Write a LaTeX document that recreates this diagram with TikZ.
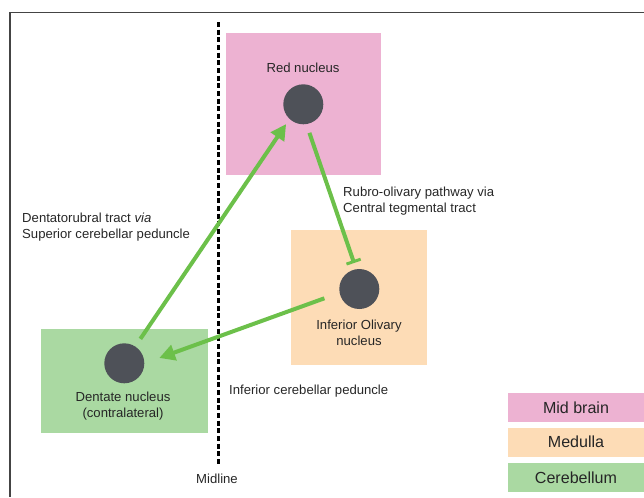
\documentclass[tikz,border=0pt]{standalone}
\usepackage{fontspec}
\setmainfont{Liberation Sans}
\usepackage{tikz}
\usetikzlibrary{arrows.meta}
\definecolor{midbrain}{HTML}{EDB2D2}
\definecolor{medulla}{HTML}{FDDCB6}
\definecolor{cerebellum}{HTML}{AAD9A2}
\definecolor{tractgreen}{HTML}{6CC04A}
\definecolor{nucgray}{HTML}{4E5158}
\definecolor{framegray}{HTML}{444444}
\definecolor{inkgray}{HTML}{262626}
\tikzstyle{region}=[rectangle,inner sep=0pt]
\tikzstyle{nucleus}=[circle,fill=nucgray,minimum size=1.2cm,inner sep=0pt]
\tikzstyle{tract}=[draw=tractgreen,line width=0.12cm]
\tikzstyle{lbl}=[text=inkgray,align=center,inner sep=0pt]
\tikzstyle{legendbox}=[rectangle,text=inkgray,minimum width=4.08cm,minimum height=0.87cm,inner sep=0pt,font=\fontsize{13.7}{16}\selectfont]
\tikzstyle{midline}=[line width=0.09cm,dash pattern=on 0.15cm off 0.08cm]

\begin{document}
\begin{tikzpicture}[x=0.03cm,y=-0.03cm,font=\fontsize{11.2}{13.6}\selectfont]
	\useasboundingbox (0,0) rectangle (644,497);
	\draw[framegray,line width=0.04cm] (644,12.5) -- (10,12.5) -- (10,497);

	\coordinate (mtop) at (218,22);
	\coordinate (mbot) at (218,466);
	\draw[midline] (mtop) -- (mbot);
	\node[lbl] (midlbl) at (217,479) {Midline};

	\node[region,fill=midbrain,minimum width=4.65cm,minimum height=4.23cm] (midbox) at (303.5,104) {};
	\node[region,fill=medulla,minimum width=4.08cm,minimum height=4.05cm] (medbox) at (359,297.5) {};
	\node[region,fill=cerebellum,minimum width=4.98cm,minimum height=3.12cm] (cerbox) at (124.5,381) {};

	\node[nucleus] (red) at (303.3,104.3) {};
	\node[nucleus] (olive) at (359.3,289) {};
	\node[nucleus] (dentate) at (124.3,363.3) {};

	\node[lbl] (redlbl) at (303,68) {Red nucleus};
	\node[lbl] (olivelbl) at (359,333) {Inferior Olivary\\nucleus};
	\node[lbl] (dentatelbl) at (123,406) {Dentate nucleus\\(contralateral)};

	\draw[tract,-{Triangle[length=0.47cm,width=0.47cm]},shorten <=0.27cm,shorten >=0.18cm] (dentate.57) -- (red.227);
	\draw[tract,-{Bar[width=0.45cm,line width=0.09cm]},shorten <=0.27cm,shorten >=0.19cm] (red.279) -- (olive.99);
	\draw[tract,-{Triangle[length=0.47cm,width=0.47cm]},shorten <=0.48cm,shorten >=0.47cm] (olive.191) -- (dentate.0);

	\node[lbl,anchor=west,align=left] (dtract) at (22,227) {Dentatorubral tract \textit{via}\\Superior cerebellar peduncle};
	\node[lbl,anchor=west,align=left] (rtract) at (343,201) {Rubro-olivary pathway via\\Central tegmental tract};
	\node[lbl,anchor=west] (itract) at (229,391) {Inferior cerebellar peduncle};

	\node[legendbox,fill=midbrain] (legmid) at (576,407.5) {Mid brain};
	\node[legendbox,fill=medulla] (legmed) at (576,442) {Medulla};
	\node[legendbox,fill=cerebellum] (legcer) at (576,477.5) {Cerebellum};
\end{tikzpicture}
\end{document}
